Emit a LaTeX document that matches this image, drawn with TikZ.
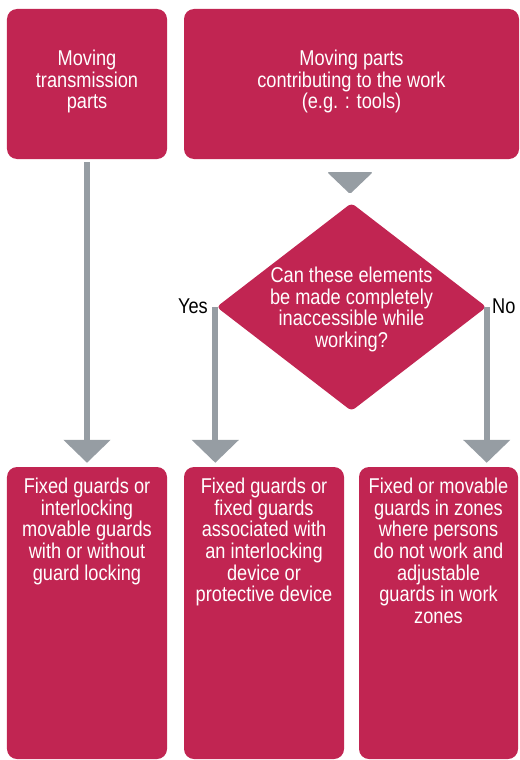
\documentclass[tikz,border=0pt]{standalone}
\usepackage{fontspec}
\setmainfont{Liberation Sans}[FakeStretch=0.85]
\usetikzlibrary{positioning,shapes.geometric,arrows.meta}

\definecolor{guardred}{HTML}{C12552}
\definecolor{guardgray}{HTML}{969DA3}

\tikzset{
  guardbox/.style={fill=guardred, rounded corners=10bp, inner sep=0pt, minimum height=150bp},
  decision/.style={shape=diamond, fill=guardred, rounded corners=4bp, inner sep=0pt,
    minimum width=270bp, minimum height=208bp},
  boxtext/.style={text=white, align=center, inner sep=0pt, font=\fontsize{21.5}{21.7}\selectfont},
  answer/.style={inner sep=0pt, font=\fontsize{21.5}{21.7}\selectfont},
  flow/.style={draw=guardgray, line width=6bp, -{Triangle[width=46bp,length=23bp]}, shorten >=4bp}
}

\begin{document}
\begin{tikzpicture}[x=1bp, y=-1bp]
    \useasboundingbox (0, 0) rectangle (520, 760);

    \node[guardbox, minimum width=160bp] (b1) at (87, 84) {};
    \node[guardbox, minimum width=335bp] (b2) at (351.5, 84) {};

    \node[boxtext, below=41bp of b1.north] (t1) {Moving\\transmission\\parts};
    \node[boxtext, below=41bp of b2.north] (t2) {Moving parts\\contributing to the work\\(e.g. : tools)};

    \fill[guardgray, rounded corners=1.5bp] (327, 172) -- (373, 172) -- (350, 194) -- cycle;

    \node[decision] (dia) at (351.5, 307) {};
    \node[boxtext, below=64bp of dia.north] (q) {Can these elements\\be made completely\\inaccessible while\\working?};

    \node[answer, anchor=base east] (yes) at (208, 313) {Yes};
    \node[answer, anchor=base west] (no) at (492, 313) {No};

    \node[guardbox, minimum width=160bp, minimum height=292bp] (b3) at (87, 613) {};
    \node[guardbox, minimum width=160bp, minimum height=292bp] (b4) at (264, 613) {};
    \node[guardbox, minimum width=159bp, minimum height=292bp] (b5) at (438.5, 613) {};

    \node[boxtext, below=11bp of b3.north] (t3) {Fixed guards or\\interlocking\\movable guards\\with or without\\guard locking};
    \node[boxtext, below=11bp of b4.north] (t4) {Fixed guards or\\fixed guards\\associated with\\an interlocking\\device or\\protective device};
    \node[boxtext, below=11bp of b5.north] (t5) {Fixed or movable\\guards in zones\\where persons\\do not work and\\adjustable\\guards in work\\zones};

    \draw[flow, shorten <=3bp] (b1) -- (b3);
    \draw[flow] ([xshift=-1bp]dia.west) -- ([xshift=-1bp]dia.west |- b4.north);
    \draw[flow] (dia.east) -- (dia.east |- b5.north);
  \end{tikzpicture}
\end{document}
